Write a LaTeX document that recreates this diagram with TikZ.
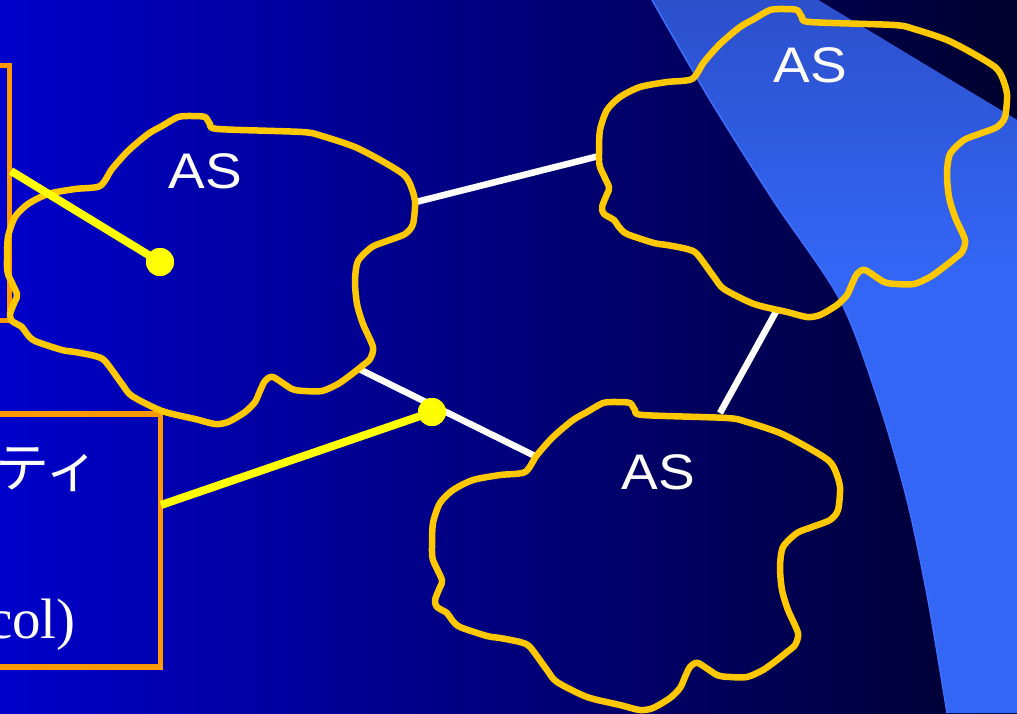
\documentclass[tikz,border=0pt]{standalone}
\usepackage{fontspec}
\setmainfont{Liberation Serif}
\newfontfamily\assans{Liberation Sans}
\newfontfamily\jpfont{Noto Sans CJK JP}
\definecolor{bgleft}{RGB}{0,0,202}
\definecolor{bgright}{RGB}{0,0,45}
\definecolor{bandc}{RGB}{51,102,245}
\definecolor{banddark}{RGB}{44,80,204}
\definecolor{bandedge}{RGB}{60,112,255}
\definecolor{cloudc}{RGB}{255,200,0}
\definecolor{boxc}{RGB}{255,153,0}
\definecolor{dotc}{RGB}{255,255,0}
\tikzset{
  cloudline/.style={draw=cloudc, line width=6.5pt, line join=round},
  wline/.style={draw=white, line width=6.5pt},
  yline/.style={draw=dotc, line width=8pt},
  dotnode/.style={circle, fill=dotc, minimum size=28pt, inner sep=0pt},
  boxnode/.style={draw=boxc, line width=5.5pt, outer sep=0pt, inner sep=0pt, anchor=north east},
  astext/.style={text=white, font=\assans\fontsize{50}{60}\selectfont, inner sep=0pt, xscale=1.1},
  cloudshape/.pic={
    \draw[cloudline] plot[smooth cycle, tension=0.45] coordinates {
      (525,472) (537,455) (553,437) (573,420) (587,412) (603,403) (617,402) (630,403)
      (635,410) (643,415) (727,418) (747,422) (780,433) (807,447) (828,460) (835,470)
      (840,487) (838,510) (830,520) (812,527) (797,533) (783,547) (780,567) (782,590)
      (788,610) (798,633) (795,645) (787,652) (777,660) (763,670) (747,677) (730,677)
      (717,675) (698,663) (690,667) (685,677) (680,688) (670,698) (653,708) (640,710)
      (620,705) (587,697) (557,682) (547,670) (530,647) (520,642) (500,638) (487,636)
      (460,627) (452,620) (447,613) (437,607) (435,600) (440,587) (442,580) (433,560)
      (432,547) (433,523) (440,503) (453,490) (473,480) (500,475)};
  }
}
\begin{document}
\begin{tikzpicture}[x=1pt, y=-1pt]
\useasboundingbox (0,0) rectangle (1017,713);
% background
\shade[left color=bgleft, right color=bgright] (0,0) rectangle (1017,713);
% light band
\fill[bandc] plot[smooth] coordinates {(652,0) (710,100) (773,200) (840,300) (878,400) (907,500) (928,600) (947,713)}
  -- (1017,713) -- (1017,120) -- (818,0) -- cycle;
\begin{scope}
  \clip plot[smooth] coordinates {(652,0) (710,100) (773,200) (840,300) (878,400) (907,500) (928,600) (947,713)}
  -- (1017,713) -- (1017,120) -- (818,0) -- cycle;
  \shade[top color=banddark, bottom color=bandc] (640,0) rectangle (1017,270);
\end{scope}
\draw[bandedge, line width=1.5pt] plot[smooth] coordinates {(652,0) (710,100) (773,200) (840,300) (878,400) (907,500) (928,600) (947,713)};
% boxes
\node[boxnode, minimum width=300pt, minimum height=255pt] (boxA) at (9.5,65.5) {};
\node[boxnode, minimum width=400pt, minimum height=253pt] (boxB) at (160.5,414) {};
% connector end points
\coordinate (c1e) at (416,202);
\coordinate (c2w) at (599,156);
\coordinate (c1se) at (357,368);
\coordinate (c3nw) at (537,457);
\coordinate (c2s) at (778,308);
\coordinate (c3n) at (720,413);
\coordinate (yA) at (11,171);
\coordinate (yB) at (161,505);
% white links
\draw[wline] (c1e) -- (c2w);
\draw[wline] (c1se) -- (c3nw);
\draw[wline] (c2s) -- (c3n);
% clouds
\pic at (-425,-286) {cloudshape};
\pic at (167,-393) {cloudshape};
\pic at (0,0) {cloudshape};
% yellow links and dots
\node[dotnode] (dA) at (160,262) {};
\node[dotnode] (dB) at (432,412) {};
\draw[yline] (yA) -- (dA.center);
\draw[yline] (yB) -- (dB.center);
\node[dotnode] at (dA) {};
\node[dotnode] at (dB) {};
% labels
\node[astext] (as1) at (205,171) {AS};
\node[astext] (as2) at (810,65) {AS};
\node[astext] (as3) at (658,472) {AS};
\node[text=white, font=\jpfont\fontsize{54}{60}\selectfont, inner sep=0pt, anchor=east] (t1) at (100,470) {ティ};
\node[text=white, font=\fontsize{57}{66}\selectfont, inner sep=0pt, anchor=base east] (t2) at (76,638) {col)};
\end{tikzpicture}
\end{document}
